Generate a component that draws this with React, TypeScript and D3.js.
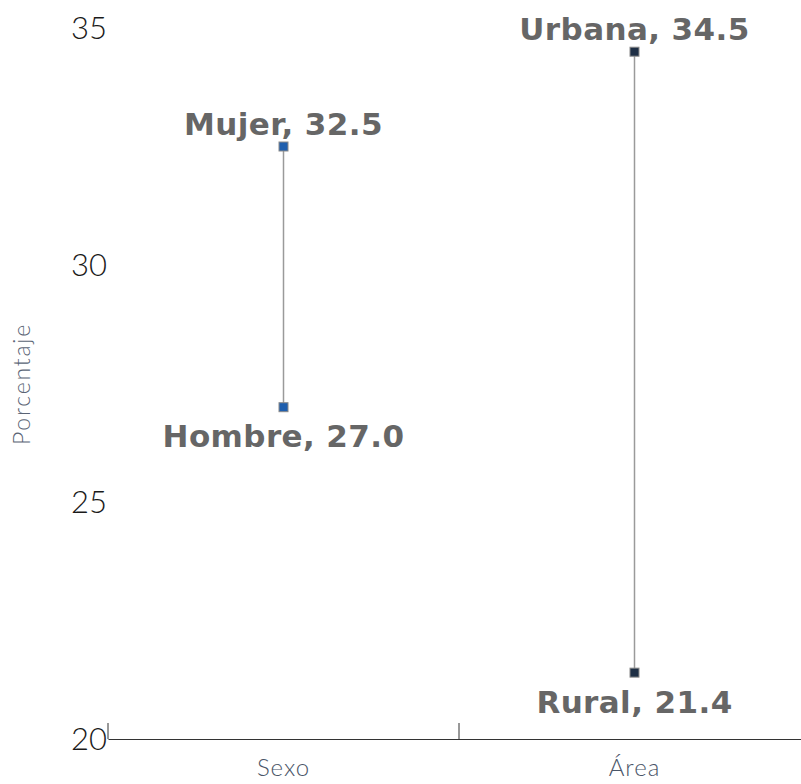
import React, { useEffect, useRef } from "react";
import * as d3 from "d3";

const groups = ["Sexo", "Área"];
const lowLabels = ["Hombre", "Rural"];
const lowValues = [27.0, 21.4];
const highLabels = ["Mujer", "Urbana"];
const highValues = [32.5, 34.5];
const markerColors = ["#1f5fae", "#1e2f45"];
const yTicks = [20, 25, 30, 35];

export default function App() {
  const svgRef = useRef<SVGSVGElement>(null);

  useEffect(() => {
    const svg = d3.select(svgRef.current);
    svg.selectAll("*").remove();

    const x = d3.scaleBand().domain(groups).range([108, 810]);
    const y = d3.scaleLinear().domain([20, 35]).range([739, 28]);

    // --- X AXIS ---
    const xAxis = svg
      .append("g")
      .attr("transform", "translate(0,739)")
      .call(d3.axisBottom(x).tickSize(0).tickPadding(20));
    xAxis.select(".domain").attr("stroke", "#333").attr("stroke-width", 1.2);
    xAxis
      .selectAll("text")
      .style("font-family", "Lato, 'Open Sans', sans-serif")
      .style("font-weight", "300")
      .style("font-size", "24px")
      .style("letter-spacing", "1px")
      .style("fill", "#4a5568");

    // band edge ticks
    svg
      .append("g")
      .selectAll("line")
      .data(groups)
      .join("line")
      .attr("x1", (d) => x(d)!)
      .attr("x2", (d) => x(d)!)
      .attr("y1", 739)
      .attr("y2", 723)
      .attr("stroke", "#333")
      .attr("stroke-width", 1);

    // --- Y AXIS (labels only) ---
    const yAxis = svg
      .append("g")
      .attr("transform", "translate(107,1)")
      .call(d3.axisLeft(y).tickValues(yTicks).tickSize(0).tickPadding(0));
    yAxis.select(".domain").remove();
    yAxis
      .selectAll("text")
      .style("font-family", "Lato, 'Open Sans', sans-serif")
      .style("font-weight", "300")
      .style("font-size", "31px")
      .style("fill", "#1a1a1a");

    svg
      .append("text")
      .attr("transform", "translate(30,384) rotate(-90)")
      .attr("text-anchor", "middle")
      .style("font-family", "Lato, 'Open Sans', sans-serif")
      .style("font-weight", "300")
      .style("font-size", "23px")
      .style("letter-spacing", "1.8px")
      .style("fill", "#5a6475")
      .text("Porcentaje");

    const idx = d3.range(groups.length);
    const cx = (i: number) => x(groups[i])! + x.bandwidth() / 2;

    // --- CONNECTORS ---
    svg
      .append("g")
      .selectAll("line")
      .data(idx)
      .join("line")
      .attr("x1", cx)
      .attr("x2", cx)
      .attr("y1", (i) => y(lowValues[i]))
      .attr("y2", (i) => y(highValues[i]))
      .attr("stroke", "#9a9a9a")
      .attr("stroke-width", 1.5);

    // --- MARKERS ---
    const points = idx.flatMap((i) => [
      { i, v: lowValues[i], label: lowLabels[i], top: false },
      { i, v: highValues[i], label: highLabels[i], top: true },
    ]);

    svg
      .append("g")
      .selectAll("rect")
      .data(points)
      .join("rect")
      .attr("x", (d) => cx(d.i) - 4.5)
      .attr("y", (d) => y(d.v) - 4.5)
      .attr("width", 9)
      .attr("height", 9)
      .attr("fill", (d) => markerColors[d.i])
      .attr("stroke", "#8a8a8a")
      .attr("stroke-width", 1);

    // --- LABELS ---
    svg
      .append("g")
      .selectAll("text")
      .data(points)
      .join("text")
      .attr("x", (d) => cx(d.i))
      .attr("y", (d) => (d.top ? y(d.v) - 12 : y(d.v) + 40))
      .attr("text-anchor", "middle")
      .style("font-family", "'DejaVu Sans', sans-serif")
      .style("font-weight", "700")
      .style("font-size", "31px")
      .style("letter-spacing", "0.4px")
      .style("fill", "#666666")
      .text((d) => `${d.label}, ${d.v.toFixed(1)}`);
  }, []);

  return (
    <svg
      ref={svgRef}
      width={801}
      height={784}
      style={{ position: "absolute", left: 0, top: 0, background: "#fff" }}
    ></svg>
  );
}
